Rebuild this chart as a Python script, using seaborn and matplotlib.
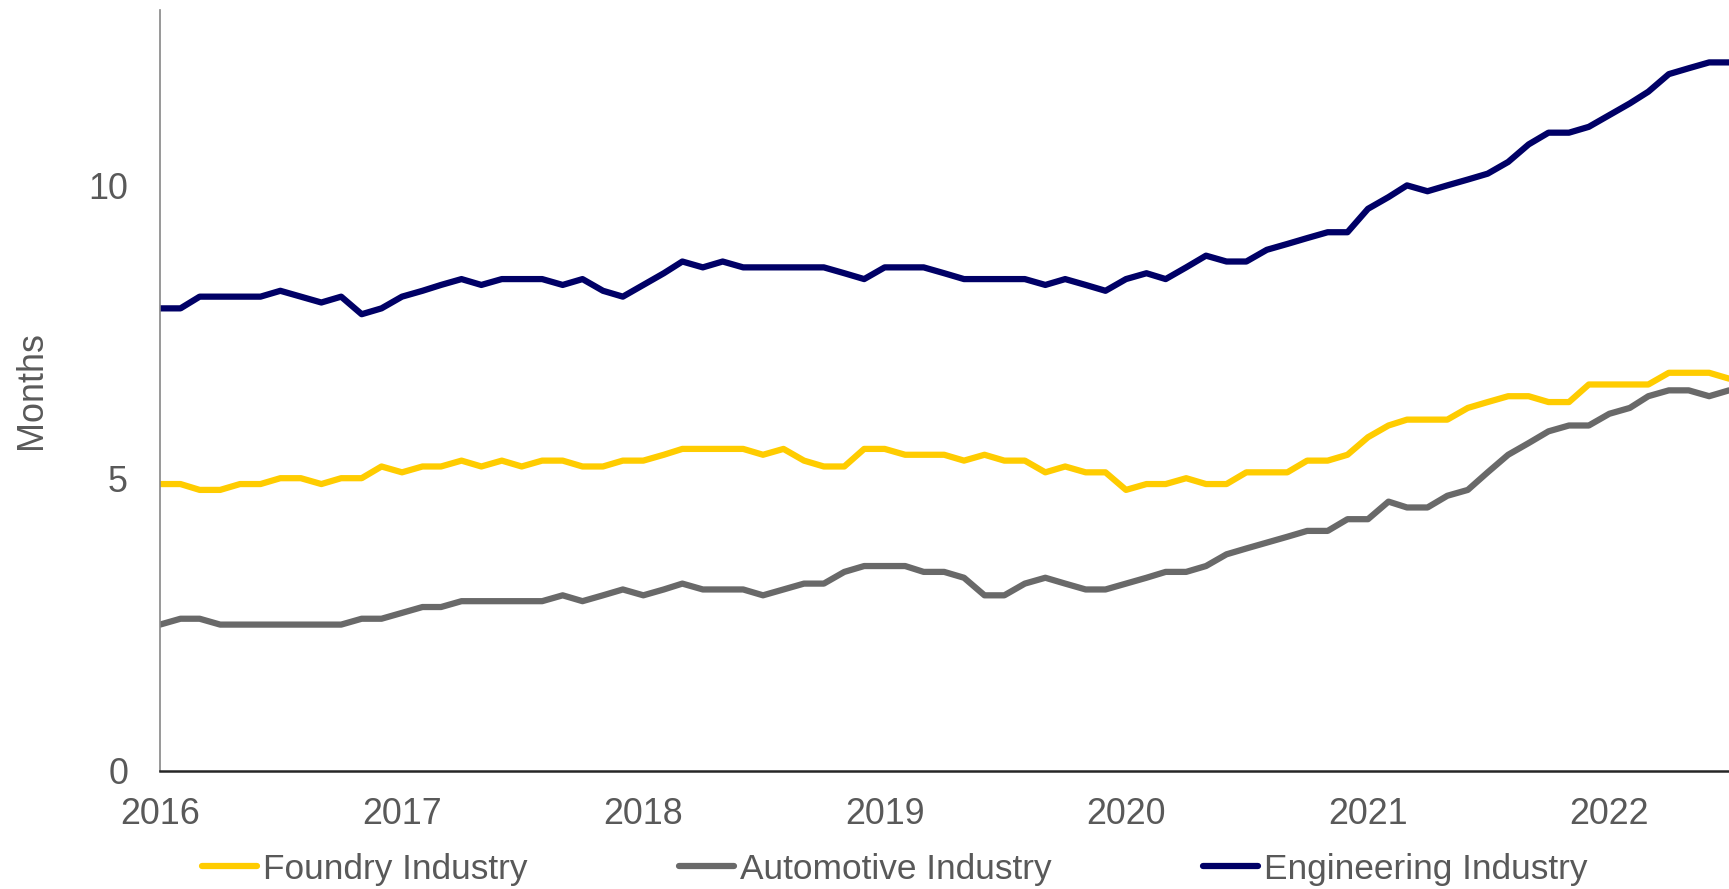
import pandas as pd
import numpy as np
import matplotlib.pyplot as plt
import matplotlib.dates as mdates
import seaborn as sns

sns.set_style('white')
plt.rcParams['font.family'] = ['Liberation Sans', 'DejaVu Sans']

# monthly values, Jan 2016 - Jul 2022
dates = pd.date_range('2016-01-01', periods=79, freq='MS')

foundry = [4.9, 4.9, 4.8, 4.8, 4.9, 4.9, 5.0, 5.0, 4.9, 5.0, 5.0, 5.2, 5.1, 5.2, 5.2, 5.3,
           5.2, 5.3, 5.2, 5.3, 5.3, 5.2, 5.2, 5.3, 5.3,
           5.4, 5.5, 5.5, 5.5, 5.5, 5.4, 5.5, 5.3, 5.2, 5.2, 5.5, 5.5, 5.4, 5.4, 5.4, 5.3,
           5.4, 5.3, 5.3, 5.1, 5.2, 5.1, 5.1,
           4.8, 4.9, 4.9, 5.0, 4.9, 4.9, 5.1, 5.1, 5.1, 5.3, 5.3, 5.4, 5.7, 5.9, 6.0, 6.0,
           6.0, 6.2, 6.3, 6.4, 6.4, 6.3, 6.3, 6.6, 6.6, 6.6, 6.6, 6.8, 6.8, 6.8, 6.7]

automotive = [2.5, 2.6, 2.6, 2.5, 2.5, 2.5, 2.5, 2.5, 2.5, 2.5, 2.6, 2.6, 2.7, 2.8, 2.8, 2.9,
              2.9, 2.9, 2.9, 2.9, 3.0, 2.9, 3.0, 3.1, 3.0,
              3.1, 3.2, 3.1, 3.1, 3.1, 3.0, 3.1, 3.2, 3.2, 3.4, 3.5, 3.5, 3.5, 3.4, 3.4, 3.3,
              3.0, 3.0, 3.2, 3.3, 3.2, 3.1, 3.1,
              3.2, 3.3, 3.4, 3.4, 3.5, 3.7, 3.8, 3.9, 4.0, 4.1, 4.1, 4.3, 4.3, 4.6, 4.5, 4.5,
              4.7, 4.8, 5.1, 5.4, 5.6, 5.8, 5.9, 5.9, 6.1, 6.2, 6.4, 6.5, 6.5, 6.4, 6.5]

engineering = [7.9, 7.9, 8.1, 8.1, 8.1, 8.1, 8.2, 8.1, 8.0, 8.1, 7.8, 7.9, 8.1, 8.2, 8.3, 8.4,
               8.3, 8.4, 8.4, 8.4, 8.3, 8.4, 8.2, 8.1, 8.3,
               8.5, 8.7, 8.6, 8.7, 8.6, 8.6, 8.6, 8.6, 8.6, 8.5, 8.4, 8.6, 8.6, 8.6, 8.5, 8.4,
               8.4, 8.4, 8.4, 8.3, 8.4, 8.3, 8.2,
               8.4, 8.5, 8.4, 8.6, 8.8, 8.7, 8.7, 8.9, 9.0, 9.1, 9.2, 9.2, 9.6, 9.8, 10.0, 9.9,
               10.0, 10.1, 10.2, 10.4, 10.7, 10.9, 10.9, 11.0, 11.2, 11.4, 11.6, 11.9, 12.0, 12.1, 12.1]

series_names = ['Foundry Industry', 'Automotive Industry', 'Engineering Industry']
colors = ['#FFCC00', '#696969', '#000066']

df = pd.DataFrame({'date': dates, series_names[0]: foundry,
                   series_names[1]: automotive, series_names[2]: engineering})
long = df.melt(id_vars='date', var_name='series', value_name='months')

fig = plt.figure(figsize=(17.29, 8.89), dpi=100)
ax = fig.add_axes([160 / 1729, 118 / 889, 1 - 160 / 1729, 761.3 / 889])

sns.lineplot(data=long, x='date', y='months', hue='series', hue_order=series_names,
             palette=dict(zip(series_names, colors)), linewidth=4.5, ax=ax)

handles, labels = ax.get_legend_handles_labels()
ax.get_legend().remove()
for h in handles:
    h.set_linewidth(4.5)
fig.legend(handles, labels, loc='center', bbox_to_anchor=(895 / 1729, 1 - 869 / 889),
           ncol=3, frameon=False, fontsize=25.4, handlelength=1.55, handletextpad=0.17,
           columnspacing=4.3, labelcolor='#595959')

ax.set_xlim(dates[0], dates[-1])
ax.set_ylim(0, 13)
ax.set_yticks([0, 5, 10])
ax.xaxis.set_major_locator(mdates.YearLocator())
ax.xaxis.set_major_formatter(mdates.DateFormatter('%Y'))

ax.set_xlabel('')
ax.set_ylabel('Months', fontsize=25.8, color='#595959', labelpad=28)

sns.despine(ax=ax)
ax.spines['left'].set_color('#868686')
ax.spines['left'].set_linewidth(1.2)
ax.spines['bottom'].set_color('#262626')
ax.spines['bottom'].set_linewidth(1.8)
ax.tick_params(axis='both', length=8, width=1.2, color='#868686',
               labelsize=25.8, labelcolor='#595959')
ax.tick_params(axis='y', pad=15)
ax.tick_params(axis='x', pad=11)

fig.savefig('out.png', dpi=100)
